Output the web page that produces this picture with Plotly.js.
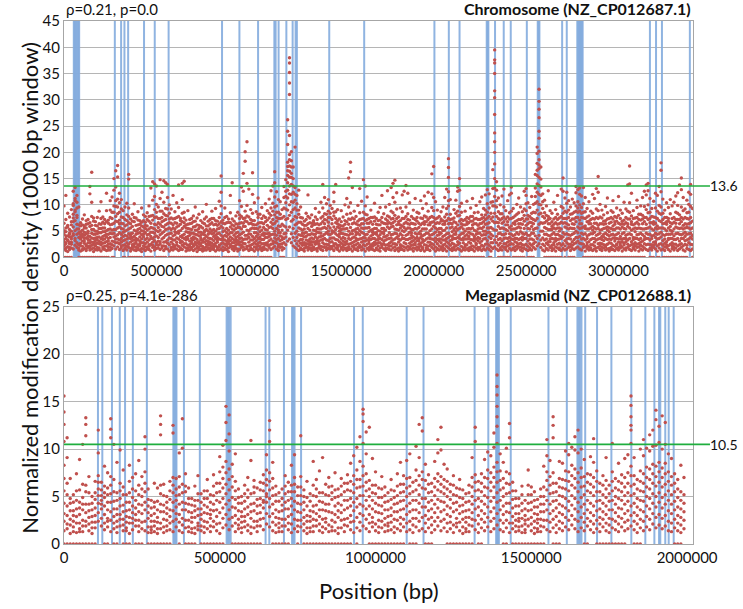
<!DOCTYPE html>
<html>
<head>
<meta charset="utf-8">
<script src="https://cdn.plot.ly/plotly-3.0.1.min.js"></script>
<style>html,body{margin:0;padding:0;background:#fff;}#chart{width:743px;height:609px;}</style>
</head>
<body>
<div id="chart"></div>
<script>
// Each row: [window position in kb, densities of the 1000 bp windows read around that position...]
const chromosomeRows = [
[0,0,6.5,1.6,3.4,4.9,2.2,9.8,2.3,3.0,4.4,5.1],[10,0,1.3,4.1,7.2,2.8,5.6,11.8,1.8,2.6,3.6,4.9],[20,0,2.0,3.2,6.1,1.1,8.4,2.0,3.3,4.1,5.8],[30,0,1.5,4.6,2.6,7.7,5.3,1.9,2.9,3.9,4.4],[40,0,1.8,3.5,6.8,2.9,9.1,2.5,3.9,5.0,6.2],
[50,1.6,4.2,7.5,10.2,5.8,12.6,4.5,6.8,8.2,9.9],[60,2.3,5.1,8.7,11.2,3.6,13.3,3.2,7.0,9.0,10.8],[70,1.9,6.3,9.4,4.4,11.8,7.6,2.8,5.4,8.0,10.5],[80,0,1.4,3.8,6.2,9.6,2.5,1.7,2.4,4.7,5.4],[90,0,1.2,2.7,4.3,6.6,3.5,2.2,3.8,4.9,6.0],
[100,0,2.1,5.2,1.5,7.3,3.9,1.4,3.1,4.4,6.2],[110,0,1.7,3.1,4.8,6.0,8.1,2.7,3.6,4.2,5.6],[120,0,1.3,2.4,5.6,3.7,7.0,1.6,2.2,4.5,6.3],[130,0,1.9,4.0,2.8,6.4,5.0,2.1,3.4,4.6,7.2],[140,0,1.4,3.3,5.9,2.2,12.1,13.5,1.9,2.8,4.0,6.6],
[150,0,1.6,2.9,4.6,7.8,16.2,10.5,2.3,3.7,5.3,6.1],[160,0,1.1,3.6,5.3,2.5,6.9,1.8,2.9,4.4,7.5],[170,0,2.2,4.4,1.5,6.1,3.2,2.6,3.7,5.0,6.8],[180,0,1.4,2.7,5.0,3.8,7.6,1.9,3.3,4.5,6.0],[190,0,1.8,3.9,6.4,2.6,8.8,1.5,3.1,4.7,5.5],
[200,0,1.2,2.9,4.7,10.6,5.5,2.4,3.6,6.3,7.4],[210,0,2.0,3.4,6.7,1.6,4.9,2.7,4.0,5.6,7.7],[220,0,1.5,4.2,2.8,7.2,5.6,2.1,3.5,4.9,6.4],[230,0,1.3,3.0,5.1,8.9,12.2,2.2,3.9,4.4,6.8],[240,0,1.9,2.5,4.4,6.5,3.6,1.4,3.1,5.3,7.1],
[250,1.4,3.8,6.2,9.0,2.6,10.8,2.0,4.6,5.4,7.6],[260,0,1.7,4.5,7.4,3.1,11.5,2.4,5.2,6.3,8.6],[270,0,2.2,5.3,8.6,3.9,12.8,15.0,3.0,4.6,6.5,9.8],[280,1.6,4.1,6.9,9.7,2.8,13.4,16.5,3.5,5.3,7.8,10.8],[290,2.0,5.6,8.3,11.1,3.5,15.3,17.5,2.8,4.3,6.8,9.6],
[300,1.5,4.7,7.1,10.4,2.6,12.2,3.3,5.8,6.4,8.6],[310,1.8,3.6,6.5,9.2,2.2,11.0,2.9,4.4,5.5,7.7],[320,0,1.3,4.0,7.6,5.4,8.9,2.3,3.2,4.8,6.4],[330,0,2.4,3.3,6.0,1.7,9.6,1.8,4.2,5.0,7.2],[340,1.4,2.8,5.2,8.1,4.1,10.3,2.1,3.5,6.2,7.0],
[350,0,1.9,3.7,6.6,9.4,15.8,14.9,2.5,4.5,5.4,7.8],[360,0,1.2,4.5,2.9,7.3,5.6,1.7,3.6,4.1,6.4],[370,0,1.6,3.2,5.9,8.2,2.4,2.0,3.8,4.6,6.9],[380,0,2.1,4.0,6.8,1.4,10.2,2.6,3.3,5.2,7.6],[390,0,1.3,2.7,5.0,3.6,7.5,1.9,3.1,4.4,6.1],
[400,0,1.8,4.6,2.3,6.2,8.7,1.5,3.4,5.3,7.1],[410,0,1.4,3.1,5.5,7.0,2.6,2.2,3.9,4.7,6.3],[420,0,1.1,2.8,4.3,6.7,9.4,1.7,3.5,5.1,6.0],[430,1.6,3.9,2.2,5.8,8.1,2.8,4.4,5.0,7.0],[440,0,1.3,3.4,6.1,4.7,7.8,2.0,2.6,5.5,6.7],
[450,0,2.0,2.9,5.2,8.5,3.7,1.6,4.3,6.0,7.2],[460,0,1.5,4.4,6.9,2.4,9.8,2.1,3.3,5.4,7.8],[470,0,1.2,3.6,5.7,7.9,13.2,2.5,4.0,4.8,6.5],[480,0,1.9,4.8,8.0,2.9,10.9,14.4,2.3,3.6,5.6,7.1],[490,1.4,3.2,6.3,9.1,4.6,11.6,14.0,2.0,3.9,5.4,7.6],
[500,0,1.7,5.1,7.7,2.8,10.1,13.6,2.4,4.1,6.2,8.6],[510,0,2.3,3.8,6.6,9.6,4.9,1.8,3.1,5.7,7.4],[520,0,1.5,4.3,7.4,2.6,11.2,14.8,3.0,5.2,6.3,8.8],[530,0,1.8,3.5,5.9,8.8,12.4,2.2,4.6,6.8,7.6],[540,0,1.3,4.9,7.0,2.2,10.5,14.6,2.9,3.8,5.8,8.3],
[550,0,2.1,3.0,6.2,9.3,5.3,14.2,1.7,4.2,7.2,8.0],[560,1.6,4.4,7.9,2.7,11.4,13.9,3.3,5.4,6.4,9.2],[570,0,1.2,3.7,5.6,8.4,10.0,2.4,4.5,6.6,7.3],[580,0,1.9,2.9,6.5,4.6,9.2,1.5,3.6,5.3,7.5],[590,0,1.4,4.1,7.3,2.5,11.8,2.0,3.3,5.6,6.2],
[600,0,2.2,3.3,5.4,8.7,6.6,1.7,4.3,4.9,7.4],[610,0,1.6,4.7,2.4,7.6,10.4,2.9,3.7,5.8,6.5],[620,0,1.3,3.5,6.0,9.5,13.8,2.1,4.6,5.0,7.8],[630,0,1.8,2.8,5.1,7.4,4.0,1.5,3.2,6.3,7.0],[640,0,1.5,4.2,6.8,3.0,11.0,14.1,2.3,3.8,5.5,8.4],
[650,0,2.0,3.6,5.9,8.6,14.5,2.6,4.4,6.6,7.5],[660,0,1.2,2.6,4.9,7.1,3.8,1.8,3.3,5.6,6.2],[670,0,1.7,4.0,2.3,6.3,8.9,1.4,3.5,4.8,5.5],[680,0,1.4,3.1,5.4,2.0,7.2,2.4,4.2,4.7,6.4],[690,0,1.9,2.7,4.6,6.5,3.6,1.6,3.1,5.3,7.4],
[700,0,1.3,3.9,5.8,2.4,7.9,2.1,3.4,4.6,6.8],[710,0,1.6,2.9,4.4,6.9,9.6,2.5,3.7,5.2,5.9],[720,0,1.1,3.4,5.2,2.2,7.5,1.8,2.8,4.3,6.2],[730,0,2.0,4.1,3.0,6.1,8.2,1.5,2.6,4.8,5.5],[740,0,1.5,2.6,4.8,7.0,3.7,2.2,3.3,4.2,5.9],
[750,0,1.2,3.3,5.6,2.1,8.7,1.7,2.9,4.5,6.6],[760,0,1.8,4.3,2.9,6.4,5.1,1.4,3.6,4.9,7.3],[770,0,1.4,2.5,4.0,7.7,10.1,2.0,3.2,5.3,6.0],[780,0,1.7,3.7,6.0,2.7,5.0,2.3,3.1,4.4,6.9],[790,0,1.3,2.9,4.7,7.2,3.6,1.8,2.4,5.4,6.3],
[800,0,2.1,4.5,1.6,6.6,8.8,2.7,3.5,5.1,7.4],[810,0,1.5,3.2,5.3,2.4,7.4,1.9,4.0,4.6,6.2],[820,0,1.2,2.7,4.2,6.3,9.3,2.2,3.6,5.0,7.0],[830,0,1.9,3.8,6.9,2.9,5.4,1.5,3.3,4.5,6.1],[840,0,1.4,4.6,2.3,7.6,10.7,2.0,3.5,5.5,6.4],
[850,1.6,3.4,5.9,8.3,12.4,15.5,2.6,4.2,6.8,9.8],[860,0,1.3,2.8,4.9,7.1,3.9,2.0,3.4,5.6,6.5],[870,0,1.8,4.2,6.4,2.5,9.4,1.5,3.3,5.1,7.6],[880,0,1.5,3.1,5.5,7.8,2.2,2.6,4.0,4.7,6.6],[890,0,1.1,2.6,4.4,6.7,3.5,1.8,3.0,5.2,7.3],
[900,0,2.0,3.9,5.8,8.5,11.8,2.4,3.2,4.7,6.6],[910,0,1.6,4.7,2.8,7.3,14.2,2.1,3.6,5.4,6.2],[920,0,1.3,3.3,5.2,2.1,6.9,1.7,2.8,4.2,6.0],[930,0,1.7,2.9,4.6,7.9,3.8,2.3,3.4,5.5,6.4],[940,0,1.2,4.0,6.3,2.6,8.6,1.6,3.2,4.8,5.7],
[950,1.5,3.6,5.7,2.4,8.1,10.8,2.9,4.3,6.5,7.4],[960,0,1.9,3.0,6.6,4.5,9.7,13.4,2.3,3.7,5.4,7.8],[970,0,1.4,4.8,2.7,7.4,12.6,16.0,2.0,3.4,5.9,6.5],[980,0,1.6,3.5,5.9,8.8,18.3,20.1,2.6,4.2,6.9,7.5],[990,0,2.1,4.2,6.8,9.9,14.1,22.0,1.7,3.5,5.2,7.9],
[1000,0,1.3,2.9,5.1,7.7,13.0,2.2,3.8,4.5,6.4],[1010,0,1.8,4.4,2.3,6.5,9.1,1.5,3.3,5.4,7.2],[1020,0,1.5,3.3,5.6,8.4,12.0,16.1,2.5,4.0,6.3,7.0],[1030,0,1.2,2.8,4.7,7.0,10.4,2.0,3.6,5.5,6.2],[1040,0,1.9,4.0,6.2,2.5,8.7,1.6,3.2,4.7,5.5],
[1050,1.4,3.6,5.4,2.2,7.6,11.3,2.7,4.4,6.5,8.2],[1060,0,1.7,2.9,4.9,8.2,3.9,2.2,3.5,5.8,6.6],[1070,0,1.3,4.3,6.6,2.6,9.5,1.8,3.4,5.2,7.4],[1080,0,2.0,3.4,5.7,7.9,4.6,1.5,2.6,4.2,6.4],[1090,0,1.6,2.7,4.5,6.8,10.2,2.4,3.8,5.3,7.6],
[1100,0,1.4,3.8,6.1,8.9,2.3,2.8,4.5,5.2,7.1],[1110,0,1.9,4.6,7.5,3.2,11.1,2.3,4.0,5.7,8.4],[1120,0,1.5,3.5,5.8,9.4,12.7,2.5,4.3,6.7,8.0],[1130,1.8,4.4,7.2,10.3,3.1,13.6,2.6,5.5,6.3,8.8],[1140,2.1,5.0,8.1,11.5,3.7,14.2,16.3,2.9,4.4,6.5,9.6],
[1150,1.6,4.2,6.9,9.8,2.8,12.5,3.4,5.5,7.6,8.6],[1160,1.3,3.6,6.0,8.6,2.4,11.0,2.0,4.7,5.2,7.4],[1170,0,1.9,4.7,7.4,10.6,3.2,2.5,4.1,5.9,8.2],[1180,0,1.4,3.9,6.3,9.1,2.6,2.0,3.4,5.2,7.5],[1190,0,1.7,4.5,7.8,11.4,13.5,2.8,3.6,6.0,9.4],
[1200,2.4,5.8,9.2,12.6,14.8,3.9,4.6,7.2,10.4,11.6],[1210,3.1,7.4,11.3,14.2,16.5,18.1,21.5,24.0,26.2,5.2,9.0,12.8,15.6,17.3],[1220,3.5,8.0,12.1,15.3,17.4,19.6,23.2,31.0,33.2,35.2,37.0,38.0,5.8,10.0,13.6,16.4,18.6],[1230,2.8,6.9,10.6,13.9,16.0,18.4,20.1,4.5,8.6,12.0,15.2,17.2],[1240,2.2,5.5,9.1,12.4,15.0,17.2,3.8,7.2,10.5,13.6],
[1250,1.9,4.6,7.8,10.9,13.3,21.0,3.2,6.2,9.4,12.0],[1260,1.6,3.8,6.4,9.0,11.8,2.6,5.0,7.6,10.2],[1270,0,1.3,3.1,5.6,8.2,12.8,2.2,4.3,6.7,9.0],[1280,0,1.8,4.2,6.7,2.7,9.6,1.5,3.4,5.4,7.6],[1290,0,1.5,3.4,5.2,7.5,2.3,2.8,4.1,4.6,6.3],
[1300,0,1.2,2.8,4.6,6.9,3.9,1.7,2.4,5.4,6.1],[1310,0,1.9,4.0,6.1,2.6,8.4,2.1,3.3,4.8,7.2],[1320,0,1.4,3.2,5.5,7.8,11.9,1.9,2.6,4.3,6.4],[1330,0,1.7,2.6,4.3,6.6,3.5,2.3,3.0,5.2,7.5],[1340,0,1.3,3.7,5.9,2.4,8.1,1.8,3.0,4.5,6.5],
[1350,0,2.0,4.4,2.9,7.0,5.2,1.5,3.5,6.2,6.7],[1360,0,1.6,3.0,5.1,7.7,9.3,2.5,3.9,4.4,6.3],[1370,0,1.2,2.7,4.8,6.4,3.6,1.7,3.2,5.5,7.2],[1380,0,1.8,3.9,6.2,2.2,8.6,2.6,3.1,4.7,5.4],[1390,0,1.5,3.3,5.4,7.5,10.5,2.1,4.0,4.6,6.4],
[1400,0,1.3,4.1,6.8,2.8,9.4,13.9,2.0,3.4,5.6,7.8],[1410,0,1.9,3.6,5.7,8.3,11.4,2.5,4.4,6.4,7.2],[1420,0,1.4,4.7,7.1,2.5,10.2,1.9,3.3,5.5,8.2],[1430,1.7,3.2,6.0,8.8,4.4,11.0,2.4,5.0,6.7,7.6],[1440,0,1.6,4.3,7.6,2.9,9.9,2.1,3.6,5.6,8.4],
[1450,0,2.1,3.7,6.4,9.3,5.1,1.7,3.0,4.6,7.2],[1460,0,1.3,4.9,7.9,2.6,10.6,12.4,2.2,3.7,5.8,8.6],[1470,0,1.8,3.4,6.6,8.7,13.9,2.6,4.5,5.3,7.4],[1480,0,1.5,4.2,5.8,2.3,9.1,1.9,3.3,6.4,7.0],[1490,0,1.2,3.0,5.0,7.3,3.9,2.3,4.4,5.6,6.2],
[1500,0,1.9,2.7,4.6,6.8,8.9,1.6,3.5,5.3,6.0],[1510,0,1.4,3.8,6.0,2.4,7.7,2.0,3.1,4.5,5.4],[1520,0,1.7,4.4,2.9,7.0,10.0,2.4,3.6,5.4,6.3],[1530,0,1.3,3.1,5.5,8.2,11.2,1.8,2.6,4.3,6.8],[1540,0,2.0,3.6,6.3,2.5,9.6,15.1,1.5,4.2,5.0,7.3],
[1550,0,1.6,4.5,7.2,10.4,16.3,18.1,2.6,3.4,5.7,8.4],[1560,0,1.2,2.8,5.1,7.5,13.3,2.1,3.7,4.5,6.4],[1570,0,1.8,3.9,6.6,2.3,8.8,1.6,3.0,5.2,7.3],[1580,0,1.5,3.2,5.4,7.8,4.3,2.4,3.6,4.8,6.4],[1590,0,1.3,4.6,2.7,6.9,9.9,1.9,3.4,5.5,6.2],
[1600,0,1.9,3.5,6.1,8.5,13.1,2.3,4.3,5.1,7.2],[1610,0,1.4,2.9,4.8,7.3,10.7,2.0,3.6,5.6,6.4],[1620,1.6,3.8,6.4,2.4,8.6,14.8,3.1,4.6,5.5,7.4],[1630,0,1.2,4.3,7.0,3.1,9.8,13.6,2.2,3.7,5.6,8.2],[1640,0,1.7,3.3,5.6,8.1,11.5,2.5,4.4,6.5,7.2],
[1650,0,1.4,2.7,4.9,6.5,3.7,1.9,3.2,5.7,7.4],[1660,0,2.0,4.1,6.8,2.3,9.0,1.6,3.4,5.2,7.6],[1670,0,1.5,3.6,5.3,7.6,2.6,2.1,4.3,4.8,6.3],[1680,0,1.3,2.9,4.6,6.9,10.3,2.4,3.6,5.5,7.7],[1690,0,1.8,4.4,2.6,7.4,5.5,1.5,3.3,4.7,6.3],
[1700,0,1.4,3.4,6.2,8.6,4.0,2.2,2.8,5.1,7.0],[1710,0,1.2,2.8,5.0,7.1,9.5,1.8,3.6,4.3,6.2],[1720,0,1.9,4.7,2.5,6.7,11.8,2.3,3.4,5.5,7.6],[1730,0,1.6,3.1,5.5,8.3,3.9,2.6,4.5,4.9,6.5],[1740,0,1.3,4.0,6.4,2.3,9.6,1.7,3.3,5.2,7.3],
[1750,0,1.7,3.5,5.8,7.9,12.7,2.4,4.2,6.4,7.0],[1760,0,2.1,2.7,4.7,6.6,10.1,1.5,3.6,5.5,7.7],[1770,0,1.4,4.3,7.3,3.0,8.8,13.3,2.2,3.7,5.8,6.4],[1780,0,1.8,3.3,5.9,8.5,11.4,14.1,2.6,4.4,6.6,7.4],[1790,0,1.3,4.6,6.9,2.6,10.5,14.7,2.0,3.5,5.4,8.0],
[1800,0,1.6,3.8,6.2,9.2,12.3,2.4,4.5,5.3,7.4],[1810,0,1.2,2.9,5.2,7.7,4.1,1.8,3.5,6.3,6.8],[1820,0,1.9,4.5,2.4,7.0,9.4,1.5,3.3,5.6,6.2],[1830,0,1.5,3.6,6.0,8.7,11.9,2.2,4.2,5.1,7.4],[1840,0,1.3,2.8,4.9,7.4,12.6,2.0,3.6,5.7,6.4],
[1850,0,1.8,4.2,6.7,9.6,13.7,2.6,3.4,5.3,7.8],[1860,0,1.4,3.4,5.6,8.3,12.2,2.1,4.4,6.4,7.2],[1870,0,2.0,4.8,2.7,7.1,10.4,1.6,3.6,5.6,6.3],[1880,0,1.6,3.0,5.3,7.8,4.2,2.3,3.7,4.7,6.5],[1890,0,1.2,3.9,6.4,2.4,9.0,1.8,3.2,5.3,7.4],
[1900,0,1.7,2.8,4.6,7.2,11.2,2.4,3.6,5.5,6.3],[1910,0,1.4,4.4,6.9,3.2,8.6,2.0,3.8,5.4,7.6],[1920,0,1.9,3.5,5.7,8.4,2.5,1.6,3.1,4.6,6.5],[1930,0,1.3,2.7,5.0,7.5,10.8,2.2,3.8,4.4,6.2],[1940,0,1.6,4.1,6.5,2.9,9.3,1.9,3.4,5.4,7.4],
[1950,0,1.2,3.2,5.4,7.9,11.7,2.4,4.3,6.3,6.8],[1960,0,1.8,4.6,2.3,6.8,10.2,1.5,3.5,5.4,7.7],[1970,0,1.5,3.7,6.2,8.8,12.4,2.1,2.9,4.6,7.2],[1980,0,1.3,2.9,5.1,7.6,4.2,2.3,3.6,6.2,6.6],[1990,0,1.9,4.3,6.7,9.5,12.1,15.9,2.6,3.5,5.4,7.8],
[2000,1.6,3.4,5.9,8.9,11.4,17.3,2.4,4.5,6.8,7.6],[2010,0,1.2,3.0,4.8,7.3,10.6,2.0,3.7,5.6,6.4],[2020,0,1.7,4.2,6.6,2.6,9.0,1.5,3.4,5.3,7.5],[2030,0,1.4,3.5,5.5,7.8,3.1,2.2,4.3,4.8,6.5],[2040,0,1.9,2.8,4.6,6.9,8.7,1.6,3.5,5.5,7.3],
[2050,0,1.3,4.0,6.3,2.3,9.6,1.9,3.3,5.1,7.0],[2060,0,1.6,3.3,5.2,7.7,11.4,2.5,4.2,6.3,6.8],[2070,0,1.2,4.5,7.0,3.0,9.3,13.0,2.1,3.6,5.6,8.2],[2080,1.8,3.8,6.4,9.8,12.5,15.2,17.1,18.8,2.7,4.6,7.4,10.8],[2090,0,1.5,3.2,5.6,8.2,11.0,2.3,4.1,6.5,7.2],
[2100,0,1.3,2.7,4.9,7.3,4.0,1.8,3.4,5.8,6.4],[2110,0,1.9,4.4,6.8,2.5,9.1,1.5,3.6,5.3,7.5],[2120,0,1.4,3.6,5.7,8.4,10.9,2.2,4.4,4.9,6.6],[2130,0,1.7,3.0,5.3,7.9,12.6,13.4,2.4,3.8,6.2,8.8],[2140,1.5,4.2,6.9,9.7,12.8,15.0,2.7,3.6,5.5,8.0],
[2150,0,1.2,3.4,5.8,8.6,10.3,2.1,4.5,6.4,7.2],[2160,0,1.8,2.8,4.6,7.0,3.7,1.5,3.4,5.4,6.2],[2170,0,1.4,4.1,6.2,2.4,8.8,2.0,3.5,5.0,7.2],[2180,0,1.6,3.5,5.4,7.6,10.7,2.4,4.3,6.3,6.8],[2190,0,1.3,2.9,4.8,6.6,3.6,1.8,4.0,5.5,7.4],
[2200,0,2.0,4.5,6.9,2.7,9.4,1.5,3.4,5.4,7.8],[2210,0,1.5,3.3,5.6,7.8,11.2,2.2,4.4,6.2,6.9],[2220,0,1.2,4.0,6.4,3.1,8.5,2.0,3.6,5.2,7.3],[2230,0,1.7,2.7,5.0,7.4,9.9,2.4,3.5,4.4,6.4],[2240,0,1.4,3.8,6.1,8.6,4.6,1.9,3.2,5.4,7.2],
[2250,0,1.9,4.6,7.2,2.8,10.6,1.6,3.6,5.6,6.4],[2260,0,1.3,3.1,5.5,8.1,11.5,2.3,4.2,6.5,7.4],[2270,0,1.6,4.3,6.8,9.3,3.5,2.1,5.0,5.8,7.6],[2280,1.4,3.6,6.3,9.0,11.9,5.0,2.5,4.3,7.2,8.1],[2290,1.8,4.7,7.5,10.2,12.9,3.2,2.6,5.6,6.4,8.6],
[2300,0,1.5,3.9,6.6,9.4,12.1,2.3,4.8,5.6,7.8],[2310,0,1.2,4.4,7.3,10.5,2.8,2.0,3.6,5.7,8.4],[2320,1.7,4.1,6.9,9.8,13.1,16.7,2.8,5.4,7.7,10.6],[2330,2.0,5.2,8.4,11.6,15.0,17.8,20.0,22.0,23.7,27.2,30.4,31.7,35.0,37.0,37.6,39.5,3.3,6.6,9.8,13.2],[2340,1.6,4.0,6.7,9.6,12.8,14.4,2.8,5.2,7.8,10.8],
[2350,0,1.3,3.4,5.9,8.7,11.3,2.3,4.5,6.6,7.4],[2360,0,1.8,4.6,7.1,2.7,10.0,1.5,3.6,5.5,8.3],[2370,0,1.4,3.2,5.6,8.3,11.7,2.1,4.3,6.5,7.4],[2380,0,1.9,4.3,6.8,9.6,13.0,2.6,3.6,5.5,7.7],[2390,0,1.5,3.7,6.2,8.9,2.6,2.0,4.5,5.3,7.3],
[2400,0,1.2,2.9,5.1,7.7,10.8,2.2,3.6,6.2,6.8],[2410,0,1.7,4.5,7.3,3.1,11.9,2.4,3.8,5.7,8.5],[2420,1.4,3.5,6.0,8.8,12.2,13.4,2.6,4.4,5.3,7.4],[2430,0,1.8,4.1,6.5,2.5,9.3,1.6,3.4,5.4,7.6],[2440,0,1.3,3.0,5.4,7.9,4.3,2.0,3.6,6.3,6.8],
[2450,0,1.6,4.7,7.0,2.8,10.1,2.2,3.6,5.6,8.2],[2460,0,1.9,3.4,5.8,8.5,11.3,2.5,4.4,6.4,7.2],[2470,0,1.4,2.7,4.9,7.2,9.6,2.0,3.6,5.6,6.4],[2480,0,1.2,3.9,6.3,2.4,8.7,1.8,3.3,4.6,7.4],[2490,0,1.7,4.4,6.9,9.2,12.6,2.3,3.6,5.5,8.0],
[2500,1.5,3.6,6.1,8.9,11.8,13.1,2.5,4.6,7.3,10.2],[2510,0,1.3,3.1,5.5,8.0,10.4,2.1,4.2,6.4,7.3],[2520,0,1.8,4.2,6.7,2.6,9.5,1.5,3.5,5.4,7.8],[2530,0,1.4,3.5,5.9,8.4,11.6,2.3,4.6,6.6,7.4],[2540,0,1.9,4.6,7.2,10.1,3.3,2.6,5.3,6.4,8.6],
[2550,1.6,4.1,7.0,10.3,13.2,15.8,2.9,5.5,8.5,11.6],[2560,2.2,5.6,9.0,12.4,15.6,17.9,19.8,21.0,3.6,7.4,10.6,14.0,16.6],[2570,2.6,6.3,10.1,13.7,16.9,18.6,20.2,22.7,24.0,26.6,28.2,29.7,32.0,4.2,8.2,12.0,15.2,17.6],[2580,1.9,5.0,8.4,11.8,14.9,17.2,3.3,6.6,10.0,13.4],[2590,1.4,3.7,6.5,9.3,12.1,2.5,5.0,7.8,10.6],
[2600,0,1.2,3.3,5.7,8.5,10.9,2.2,4.4,6.6,7.5],[2610,0,1.7,4.4,6.9,2.7,9.8,1.6,3.5,5.5,8.0],[2620,0,1.4,3.0,5.3,7.8,12.7,2.4,4.2,6.4,7.2],[2630,0,1.9,4.1,6.4,8.9,3.5,2.0,3.0,5.3,7.4],[2640,0,1.3,3.6,5.9,2.3,8.4,1.8,4.4,5.3,6.8],
[2650,0,1.6,2.8,4.7,7.3,10.5,2.4,3.5,5.6,6.3],[2660,0,1.2,4.3,6.6,3.1,9.1,2.0,3.6,5.4,7.6],[2670,0,1.8,3.4,5.6,8.2,11.8,2.5,4.4,6.3,7.2],[2680,0,1.5,2.7,5.0,7.5,4.2,1.8,3.5,5.6,6.4],[2690,0,1.3,4.0,6.7,9.7,13.0,2.3,3.6,5.4,7.8],
[2700,1.7,3.9,6.5,9.4,12.6,15.1,2.6,4.7,7.4,8.4],[2710,0,1.4,3.2,5.8,8.8,11.3,2.2,4.4,6.6,7.4],[2720,1.6,4.5,7.4,10.3,2.8,12.4,3.5,5.6,6.4,8.6],[2730,0,1.9,3.6,6.2,9.0,10.8,2.5,4.3,5.4,7.6],[2740,0,1.3,4.2,7.0,2.5,9.6,2.0,3.5,5.6,8.2],
[2750,0,1.7,3.0,5.5,8.3,11.1,2.3,4.4,6.4,7.3],[2760,0,1.5,4.6,7.3,10.4,3.4,2.6,5.5,6.3,8.6],[2770,1.8,3.8,6.8,9.8,12.3,13.5,2.8,5.0,7.6,8.8],[2780,2.0,4.7,7.6,10.6,12.9,3.1,3.8,5.8,8.6,9.4],[2790,1.6,4.0,7.1,10.0,12.0,13.2,2.7,5.5,6.4,8.8],
[2800,1.4,3.5,6.4,9.5,11.7,2.6,4.6,5.6,7.6,8.4],[2810,0,1.9,4.4,7.5,10.2,13.3,2.5,3.6,5.8,8.6],[2820,0,1.2,3.3,6.0,8.7,11.4,2.1,4.5,5.5,7.4],[2830,0,1.7,4.1,6.8,2.8,9.3,2.3,3.6,5.4,7.7],[2840,0,1.4,3.0,5.4,7.9,10.6,2.0,4.3,6.4,6.9],
[2850,0,1.8,4.5,7.2,2.4,8.8,1.5,3.4,5.6,6.4],[2860,0,1.3,3.6,5.9,8.4,12.0,2.4,4.5,5.2,7.4],[2870,0,1.6,2.9,4.8,7.3,11.2,2.2,3.6,5.6,6.5],[2880,0,1.2,4.2,6.5,9.2,13.1,1.8,3.3,5.4,7.6],[2890,0,1.9,3.5,6.1,8.9,12.4,15.4,2.6,4.4,5.5,7.4],
[2900,0,1.5,2.7,5.2,7.7,10.1,2.2,3.6,4.6,6.4],[2910,0,1.3,4.0,6.4,2.6,9.0,1.9,3.4,5.3,7.5],[2920,0,1.8,3.2,5.5,8.1,3.9,2.4,4.4,6.3,6.9],[2930,0,1.4,4.6,7.0,2.3,9.7,2.0,3.6,5.6,6.4],[2940,0,1.6,3.4,5.8,8.5,11.3,2.5,4.3,5.2,7.3],
[2950,0,1.2,2.8,4.9,7.4,4.1,1.7,3.5,5.6,6.5],[2960,0,1.9,4.3,6.7,2.7,8.9,1.5,3.4,5.5,7.6],[2970,0,1.5,3.7,6.0,8.6,10.8,2.3,4.4,5.3,7.3],[2980,0,1.3,3.1,5.3,7.8,3.6,2.1,4.2,6.3,6.8],[2990,0,1.7,4.4,6.9,2.5,9.4,2.4,3.6,5.6,7.6],
[3000,0,1.4,2.9,5.6,8.0,11.6,1.9,3.5,4.6,6.5],[3010,0,1.8,4.0,6.3,2.8,9.0,2.3,3.5,5.4,7.4],[3020,0,1.2,3.5,5.8,8.4,4.5,2.0,3.0,6.4,6.9],[3030,0,1.6,2.7,4.7,7.1,10.5,2.4,3.6,5.5,6.3],[3040,0,1.4,4.2,6.6,3.0,9.2,1.8,3.6,5.4,7.6],
[3050,0,1.9,3.3,5.9,8.8,13.8,2.5,4.4,6.4,7.3],[3060,0,1.5,4.5,7.3,10.4,14.0,17.4,2.2,3.6,5.6,8.6],[3070,0,1.3,3.0,5.2,7.9,12.2,2.4,4.3,6.3,6.8],[3080,0,1.7,3.8,6.2,2.5,8.9,1.9,3.4,5.4,7.4],[3090,0,1.4,2.8,4.9,7.5,3.7,2.2,3.6,5.6,6.4],
[3100,0,1.9,4.3,6.7,9.5,10.9,2.5,3.6,5.5,7.6],[3110,0,1.2,3.4,5.6,8.2,2.6,2.0,4.4,6.3,7.2],[3120,0,1.6,4.6,7.1,2.9,9.8,2.3,3.6,5.5,8.2],[3130,0,1.4,3.1,5.4,8.0,11.4,2.1,4.3,6.4,7.3],[3140,0,1.8,4.0,6.8,9.7,12.6,2.6,3.4,5.4,7.6],
[3150,1.5,3.6,6.3,9.1,11.9,13.8,2.4,4.6,5.5,7.6],[3160,1.3,4.4,7.2,10.0,12.7,14.1,2.5,3.6,5.6,8.5],[3170,0,1.7,3.3,5.8,8.6,11.2,2.4,4.4,6.6,7.4],[3180,0,1.4,4.1,6.6,2.4,9.3,1.9,3.6,5.4,7.8],[3190,0,1.9,2.9,5.2,7.7,10.7,2.3,4.2,6.3,6.8],
[3200,1.6,3.8,6.5,9.4,12.2,3.0,2.6,4.6,5.6,7.6],[3210,0,1.2,3.5,6.0,8.8,11.8,2.2,4.4,5.4,7.4],[3220,0,1.8,4.5,7.0,9.9,13.5,2.5,3.6,5.6,8.4],[3230,1.4,3.9,6.8,9.6,12.5,16.6,18.0,2.6,4.8,5.6,8.2],[3240,0,1.6,3.2,5.6,8.4,11.1,2.3,4.3,6.4,7.2],
[3250,0,1.3,4.2,6.5,2.7,9.0,2.0,3.5,5.4,7.6],[3260,0,1.9,3.0,5.1,7.6,10.4,2.4,4.4,6.3,6.8],[3270,0,1.5,4.4,6.9,9.5,3.6,2.2,3.4,5.6,7.4],[3280,0,1.2,3.6,5.9,8.3,11.0,2.5,4.4,5.2,6.6],[3290,0,1.7,2.8,5.0,7.4,9.8,2.2,3.6,4.5,6.4],
[3300,0,1.4,4.1,6.7,2.5,10.5,1.9,3.4,5.4,7.6],[3310,0,1.8,3.4,5.8,8.6,11.7,2.5,4.5,6.5,7.2],[3320,0,1.3,4.6,7.2,9.9,12.3,2.2,3.6,5.6,8.4],[3330,0,1.6,3.1,5.5,8.1,13.8,2.4,4.4,6.4,7.2],[3340,0,1.9,4.3,6.8,9.6,12.9,15.1,2.6,3.6,5.6,7.6],
[3350,0,1.4,3.6,6.1,8.9,11.4,2.2,4.5,5.4,7.3],[3360,0,1.2,4.0,6.4,9.2,3.2,2.5,4.8,5.6,7.6],[3370,0,1.7,3.3,5.7,8.5,10.9,2.3,4.4,6.3,7.4],[3380,1.5,4.5,7.3,10.1,12.4,2.8,3.5,5.6,6.4,8.6],[3390,1.3,3.8,6.6,9.7,12.0,13.9,2.5,4.6,5.4,7.6],
[3400,0,1.6,4.2,6.9,9.3,2.4,3.5,5.6]
];

const megaplasmidRows = [
[0,0,1.4,3.2,5.6,8.3,10.8,12.6,13.9,15.6,2.4,4.3,6.9],[10,0,2.1,4.0,6.4,9.1,11.2,1.6,3.0,5.2],[20,0,1.1,2.6,4.3,6.9,2.0,3.5,4.8],[30,0,1.8,3.5,2.4,5.2,1.3,3.0,4.4],[40,0,1.2,2.9,4.6,7.4,2.2,3.7,5.6],
[50,0,1.6,3.8,2.2,5.7,8.9,1.3,3.1,4.4],[60,0,1.3,2.5,4.9,6.3,10.5,1.9,3.6,4.2],[70,0,1.9,3.3,5.5,11.4,12.6,13.3,2.4,4.2,6.2],[80,0,1.4,2.8,4.2,7.1,2.1,3.5,5.4],[90,0,1.1,3.6,5.0,2.3,1.7,2.9,4.3],
[100,0,1.7,3.0,4.7,6.6,2.3,3.8,5.4],[110,2.4,4.3,5.8,7.2,9.6,12.0,3.3,5.1,6.5],[120,1.9,3.7,5.1,6.5,4.6,2.7,4.2,5.7],[130,0,1.5,3.1,4.9,6.1,8.2,2.2,4.0,5.4],[140,0,1.8,2.7,4.4,5.9,7.5,2.4,3.6,5.2],
[150,1.3,3.4,5.3,7.1,11.2,12.1,13.2,2.5,4.4,6.2],[160,0,1.6,2.9,4.5,6.8,10.5,2.2,3.7,5.5],[170,0,1.2,3.7,5.4,2.4,8.6,1.8,3.1,4.6],[180,1.9,3.1,4.8,6.4,9.9,2.6,4.0,5.6],[190,0,1.4,2.6,4.1,6.0,7.8,2.0,3.4,5.2],
[200,0,1.7,3.5,5.2,2.3,1.4,2.9,4.4],[210,0,1.1,2.8,4.4,6.6,8.3,2.2,3.6,5.4],[220,1.5,3.3,4.9,2.2,7.0,2.7,4.0,5.8],[230,0,1.9,3.8,5.6,7.4,2.5,3.1,4.6],[240,0,1.3,2.5,4.2,6.2,8.8,1.9,3.4,5.2],
[250,0,1.6,3.2,5.0,7.1,2.3,4.1,5.8],[260,1.4,3.6,5.5,7.6,10.0,11.3,2.4,4.4,6.4],[270,0,1.2,2.7,4.0,5.8,1.8,3.3,4.7],[280,0,1.8,3.0,1.5,4.6,1.2,2.4,3.8],[290,0,1.3,2.4,3.9,6.4,1.9,3.2,4.4],
[300,0,1.1,2.8,4.5,5.9,1.6,2.3,3.6],[310,0,1.6,3.4,5.3,11.5,12.6,13.5,2.2,4.2,6.2],[320,0,1.2,2.6,4.1,6.3,1.8,3.4,5.1],[330,0,1.9,3.2,1.4,5.0,2.5,3.8,4.4],[340,0,1.5,2.9,4.7,6.6,2.2,3.6,5.6],
[350,1.3,3.5,5.4,7.0,11.7,12.5,2.4,4.4,6.2],[360,1.8,3.9,5.8,6.9,4.6,2.6,3.2,5.1],[370,0,1.4,3.1,5.2,7.1,9.6,2.3,4.2,6.0],[380,1.2,2.7,4.4,6.3,10.1,13.2,2.0,3.6,5.4],[390,0,1.7,3.6,5.5,7.4,2.5,4.3,6.1],
[400,0,1.3,2.5,4.2,5.9,1.8,3.4,4.8],[410,0,1.6,3.3,1.2,4.8,2.3,2.8,4.1],[420,0,1.1,2.8,4.0,6.1,1.7,3.5,4.6],[430,1.5,3.0,4.6,2.2,7.2,3.7,5.3,1.9],[440,0,1.9,3.7,5.3,1.4,2.6,3.1,4.4],
[450,0,1.2,2.4,4.1,5.6,1.8,3.3,4.8],[460,0,1.6,3.2,4.8,6.8,2.3,3.9,5.6],[470,0,1.3,2.7,4.4,3.6,1.9,3.1,5.2],[480,0,1.8,3.5,5.1,7.3,2.4,4.2,6.1],[490,0,1.4,2.9,4.6,6.4,2.1,3.6,5.4],
[500,0,1.1,3.3,5.5,7.6,9.2,2.2,4.4,6.4],[510,0,1.7,3.8,5.9,8.1,10.4,2.7,4.8,6.9],[520,2.0,4.2,6.3,8.7,10.9,12.8,14.5,3.1,5.3,7.5],[530,1.5,3.6,5.7,7.9,9.8,11.6,13.6,2.6,4.6,6.8],[540,0,1.9,3.9,6.0,8.4,2.8,4.9,7.1],
[550,0,1.3,3.0,4.7,6.6,9.5,2.2,3.8,5.6],[560,0,1.6,2.6,4.3,5.8,2.0,3.5,4.9],[570,0,1.2,3.4,5.0,2.3,1.7,2.9,4.3],[580,0,1.8,2.9,4.5,6.2,2.4,3.7,5.3],[590,0,1.4,3.1,4.9,7.0,2.0,3.9,5.7],
[600,0,1.1,2.7,4.2,8.8,10.9,1.8,3.4,5.3],[610,0,1.7,3.5,5.4,6.7,2.4,4.3,6.0],[620,0,1.3,2.4,4.0,5.9,1.9,3.2,4.7],[630,0,1.9,3.3,4.8,6.5,2.6,4.1,5.7],[640,1.5,3.8,5.6,7.3,4.6,2.7,4.4,6.4],
[650,2.1,4.4,6.2,7.8,5.3,9.4,3.2,5.0,6.8],[660,1.8,3.9,5.7,7.5,10.8,12.0,13.0,2.9,4.8,6.6],[670,0,1.4,3.2,5.1,6.9,8.6,2.3,4.2,5.9],[680,0,1.2,2.8,4.5,6.1,2.0,3.6,5.2],[690,0,1.7,3.4,2.2,5.4,1.3,2.7,4.5],
[700,0,1.3,2.6,4.1,5.8,1.9,3.5,4.8],[710,0,1.9,3.7,5.3,7.2,2.6,4.4,6.1],[720,0,1.5,2.9,4.6,6.5,2.2,3.7,5.5],[730,1.2,3.1,4.8,6.2,8.3,2.1,4.0,5.5],[740,1.6,3.6,5.5,7.0,9.4,2.6,4.5,6.3],
[750,0,1.3,2.5,4.3,6.0,1.9,3.4,5.1],[760,1.8,3.3,5.1,7.1,11.4,2.5,4.2,6.0],[770,0,1.4,2.8,4.4,5.7,2.1,3.6,5.0],[780,0,1.1,3.0,4.9,6.6,1.7,2.4,4.0],[790,0,1.7,3.5,2.4,5.3,1.3,2.9,4.5],
[800,0,1.3,2.6,4.0,6.2,8.7,1.9,3.4,5.1],[810,0,1.9,3.2,5.0,6.8,2.5,4.1,5.8],[820,0,1.4,2.9,4.5,7.7,2.1,3.6,5.4],[830,0,1.2,3.6,5.4,9.1,1.8,2.6,4.4],[840,0,1.6,2.7,4.2,6.3,2.3,3.5,5.2],
[850,0,1.3,3.4,5.1,7.0,2.0,4.2,6.0],[860,0,1.8,2.5,4.7,6.1,1.4,3.3,5.4],[870,0,1.4,3.1,4.9,7.5,2.3,4.0,5.7],[880,0,1.1,2.8,4.3,5.8,1.7,3.5,5.0],[890,0,1.7,3.3,5.2,6.9,2.5,4.1,6.1],
[900,0,1.3,2.6,4.6,6.4,2.0,3.6,5.5],[910,0,1.9,3.8,5.7,7.3,2.7,4.6,6.4],[920,0,1.5,3.0,4.8,6.6,8.5,2.3,4.0,5.6],[930,1.2,3.5,5.4,7.2,9.3,2.4,4.4,6.3],[940,0,1.7,3.9,5.9,7.8,10.2,2.8,4.8,6.8],
[950,1.4,3.2,5.1,6.8,8.7,11.3,2.3,4.2,6.0],[960,1.9,4.0,6.1,8.2,10.6,12.9,13.7,14.2,3.0,5.1,7.2],[970,1.6,3.7,5.6,7.4,9.5,11.8,2.6,4.6,6.5],[980,0,1.3,3.1,5.0,6.7,12.3,2.2,4.0,5.8],[990,0,1.8,2.8,4.6,6.2,9.0,2.3,3.7,5.4],
[1000,0,1.4,3.4,5.3,7.6,2.1,4.3,6.2],[1010,0,1.2,2.5,4.1,5.9,1.8,3.3,4.9],[1020,0,1.7,3.2,4.9,7.1,2.4,4.0,5.8],[1030,0,1.3,2.7,4.4,6.0,2.0,3.6,5.1],[1040,0,1.9,3.6,5.4,2.2,1.4,2.9,4.5],
[1050,0,1.5,3.0,4.7,6.8,2.3,3.8,5.7],[1060,0,1.2,2.6,4.2,5.6,1.8,3.4,4.9],[1070,0,1.6,3.4,5.1,7.4,2.5,4.3,6.1],[1080,0,1.4,2.8,4.5,6.3,8.6,2.1,3.6,5.4],[1090,0,1.8,3.7,5.5,7.2,2.6,4.6,6.3],
[1100,1.3,3.1,5.0,6.9,8.8,2.2,4.0,5.9],[1110,0,1.5,3.4,5.3,7.0,9.5,2.4,4.3,6.1],[1120,0,1.2,2.7,4.6,6.5,2.0,3.6,5.5],[1130,0,1.8,3.6,5.7,7.8,10.3,2.7,4.6,6.7],[1140,1.4,3.3,5.2,7.2,9.1,12.6,2.4,4.3,6.2],
[1150,1.6,3.9,5.9,7.6,11.9,13.3,2.8,4.8,6.8],[1160,0,1.3,3.0,4.8,6.7,8.4,2.2,3.9,5.8],[1170,0,1.7,3.5,5.4,7.3,2.6,4.4,6.3],[1180,0,1.2,2.8,4.6,6.4,2.0,3.7,5.5],[1190,1.5,3.3,5.1,6.9,8.7,2.4,4.2,6.0],
[1200,1.9,3.8,5.7,7.4,9.6,11.0,2.8,4.7,6.6],[1210,1.4,3.4,5.5,7.1,9.9,12.3,2.4,4.5,6.3],[1220,1.7,3.6,5.3,6.8,8.4,2.6,4.4,6.0],[1230,0,1.3,3.1,5.0,6.6,7.9,2.2,4.0,5.8],[1240,0,1.6,2.9,4.7,6.3,2.3,3.8,5.5],
[1250,0,1.2,3.4,5.2,7.2,2.0,4.3,6.2],[1260,0,1.8,2.7,4.4,5.9,2.2,3.6,5.1],[1270,0,1.4,3.2,4.9,6.8,2.3,4.0,5.8],[1280,0,1.1,2.6,4.1,5.7,1.8,3.4,4.8],[1290,0,1.6,3.5,5.3,2.3,1.3,2.8,4.4],
[1300,0,1.3,2.8,4.5,6.2,2.0,3.6,5.4],[1310,0,1.9,3.3,5.0,7.0,9.1,2.6,4.2,6.0],[1320,1.5,3.7,5.6,7.3,10.8,12.3,2.5,4.6,6.5],[1330,0,1.2,3.0,4.8,6.6,2.1,3.9,5.7],[1340,0,1.7,3.5,5.5,7.4,2.6,4.5,6.4],
[1350,1.4,3.2,5.1,7.0,8.9,2.3,4.2,6.0],[1360,1.8,3.9,5.9,7.8,9.7,2.8,4.9,6.9],[1370,1.3,3.4,5.6,7.5,9.3,2.4,4.5,6.5],[1380,1.6,3.8,6.0,8.1,10.2,11.7,2.7,4.9,7.0],[1390,2.0,4.4,6.5,8.6,10.6,12.4,13.4,14.5,15.7,16.6,17.8,3.2,5.4,7.6],
[1400,1.5,3.6,5.7,7.7,9.5,2.5,4.6,6.7],[1410,0,1.3,3.1,5.0,6.9,8.6,2.2,4.0,5.9],[1420,0,1.7,3.4,5.3,7.6,10.1,2.5,4.3,6.4],[1430,1.2,3.3,5.4,7.4,11.2,12.7,2.2,4.3,6.3],[1440,0,1.6,2.9,4.7,6.5,2.2,3.8,5.6],
[1450,0,1.3,2.5,4.0,5.6,1.9,3.2,4.8],[1460,0,1.8,3.2,1.4,4.8,2.4,2.7,4.0],[1470,0,1.2,2.7,4.3,6.1,1.9,3.5,5.2],[1480,0,1.5,3.0,2.1,4.6,1.2,2.5,3.7],[1490,0,1.9,3.5,5.2,7.8,2.6,4.3,6.2],
[1500,0,1.4,2.8,4.4,6.0,2.1,3.6,5.2],[1510,0,1.1,2.4,3.9,5.5,1.7,3.2,4.6],[1520,0,1.6,3.1,4.7,2.2,1.3,2.6,3.9],[1530,0,1.3,2.6,4.2,5.8,1.9,3.4,5.0],[1540,0,1.8,3.4,5.0,8.2,2.5,4.2,6.0],
[1550,1.5,3.6,5.7,7.6,9.3,11.0,2.5,4.6,6.7],[1560,1.3,3.2,5.3,7.1,8.8,2.3,4.2,6.2],[1570,0,1.7,3.5,5.4,7.5,11.2,12.5,13.4,2.6,4.5,6.4],[1580,0,1.2,2.9,4.6,6.4,2.0,3.8,5.5],[1590,0,1.6,3.3,5.1,6.9,8.7,2.4,4.2,6.0],
[1600,1.4,3.1,5.0,6.8,8.5,2.2,4.0,5.9],[1610,1.8,3.8,5.8,7.7,9.8,2.8,4.8,6.7],[1620,1.5,3.5,5.6,7.6,9.4,10.6,2.5,4.5,6.6],[1630,2.0,4.1,6.2,8.3,10.2,3.0,5.1,7.2],[1640,1.6,3.7,5.9,7.9,9.9,11.3,2.6,4.8,6.9],
[1650,1.3,3.4,5.5,7.5,9.6,12.0,2.4,4.4,6.5],[1660,1.7,3.9,6.0,8.0,10.0,2.8,4.9,7.0],[1670,0,1.4,3.2,5.2,7.1,8.9,2.3,4.2,6.1],[1680,0,1.9,3.6,5.6,7.4,2.7,4.6,6.5],[1690,1.5,3.3,5.4,7.3,9.2,2.4,4.3,6.3],
[1700,1.2,3.0,5.1,7.0,8.6,11.1,2.1,4.0,6.0],[1710,0,1.6,3.5,5.5,7.7,2.5,4.5,6.6],[1720,0,1.3,2.8,4.6,6.4,2.1,3.7,5.5],[1730,0,1.8,3.4,5.2,7.2,2.6,4.3,6.2],[1740,0,1.4,3.1,4.9,6.7,9.1,2.2,4.0,5.8],
[1750,0,1.2,2.7,4.5,6.2,2.0,3.6,5.3],[1760,0,1.7,3.6,5.6,7.6,10.6,2.6,4.6,6.6],[1770,0,1.5,3.3,5.0,6.9,2.4,4.2,5.9],[1780,0,1.3,2.9,4.8,6.6,8.5,2.1,3.8,5.7],[1790,0,1.8,3.7,5.5,7.3,2.7,4.6,6.4],
[1800,0,1.4,3.2,5.1,7.0,9.0,2.3,4.2,6.0],[1810,1.6,3.5,5.4,7.5,9.4,2.5,4.5,6.4],[1820,1.9,4.0,6.1,8.2,10.6,12.0,12.5,13.4,14.6,15.6,3.0,5.1,7.2],[1830,0,1.5,3.3,5.3,7.2,9.1,2.4,4.3,6.3],[1840,0,1.2,3.0,4.8,6.8,2.1,3.9,5.8],
[1850,0,1.7,3.6,5.6,7.7,10.0,2.6,4.6,6.6],[1860,1.4,3.4,5.5,7.4,9.3,11.0,2.4,4.5,6.4],[1870,1.8,4.0,6.0,8.1,10.1,2.9,5.0,7.0],[1880,1.5,3.7,5.8,7.9,9.8,11.5,2.6,4.8,6.8],[1890,2.1,4.3,6.4,8.4,10.3,12.0,3.2,5.3,7.4],
[1900,1.7,3.9,6.1,8.2,10.4,13.1,14.1,2.8,5.0,7.1],[1910,2.0,4.4,6.5,8.6,10.7,12.4,3.1,5.4,7.6],[1920,1.6,3.8,6.0,8.0,10.0,13.5,2.7,4.9,7.0],[1930,1.9,4.2,6.3,8.5,10.5,12.8,3.0,5.2,7.4],[1940,1.4,3.5,5.6,7.6,9.5,2.4,4.6,6.6],
[1950,1.3,3.2,5.2,7.1,9.0,2.2,4.2,6.2],[1960,0,1.7,3.6,5.5,7.4,2.6,4.5,6.4],[1970,0,1.4,3.0,4.9,6.8,2.2,3.9,5.8],[1980,0,1.2,2.8,4.6,8.3,2.0,3.7,5.5],[1990,1.6,3.4,5.2,7.0,2.5,4.3]
];

// Blue marks (kb) and green threshold values
const chromosomeSites = [53,58,63,68,73,78,82,275,309,327,347,433,491,566,855,949,1050,1138,1145,1161,1203,1237,1253,1260,1435,1624,2004,2082,2140,2287,2292,2296,2332,2379,2417,2504,2563,2568,2572,2695,2720,2777,2782,2787,2792,2797,2802,2806,3170,3203,3235,3386];
const megaplasmidSites = [109,123,154,179,196,221,266,351,354,358,361,385,436,522,526,530,535,647,659,706,732,736,740,761,931,959,1100,1154,1318,1362,1387,1390,1393,1396,1434,1555,1614,1648,1652,1656,1661,1673,1711,1757,1821,1866,1895,1910,1914,1930,1941,1957];
const yMax = [45, 25];
const thresholds = [13.6, 10.5];
const statLabels = ["ρ=0.21, p=0.0", "ρ=0.25, p=4.1e-286"];
const panelTitles = ["Chromosome (NZ_CP012687.1)", "Megaplasmid (NZ_CP012688.1)"];

function expand(rows){
  const x=[], y=[];
  rows.forEach(r=>{ for(let i=1;i<r.length;i++){ x.push(r[0]*1000); y.push(r[i]); } });
  return {x, y};
}
function siteLines(sites, top){
  const x=[], y=[];
  sites.forEach(s=>{ x.push(s*1000, s*1000, null); y.push(0, top, null); });
  return {x, y};
}
const chr = expand(chromosomeRows);
const mega = expand(megaplasmidRows);
const chrLines = siteLines(chromosomeSites, yMax[0]);
const megaLines = siteLines(megaplasmidSites, yMax[1]);

const RED = '#c0504d';
const BLUE = 'rgba(132,172,222,0.9)';
const traces = [
  {type:'scatter', mode:'lines', x:chrLines.x, y:chrLines.y, xaxis:'x', yaxis:'y',
   line:{color:BLUE, width:2}, hoverinfo:'skip', connectgaps:false},
  {type:'scatter', mode:'lines', x:megaLines.x, y:megaLines.y, xaxis:'x2', yaxis:'y2',
   line:{color:BLUE, width:2}, hoverinfo:'skip', connectgaps:false},
  {type:'scatter', mode:'markers', x:chr.x, y:chr.y, xaxis:'x', yaxis:'y',
   marker:{color:RED, size:3.4}, hoverinfo:'skip', cliponaxis:true},
  {type:'scatter', mode:'markers', x:mega.x, y:mega.y, xaxis:'x2', yaxis:'y2',
   marker:{color:RED, size:3.4}, hoverinfo:'skip', cliponaxis:true}
];

const shapes = [
  {type:'line', xref:'paper', yref:'y', x0:0, x1:1.027, y0:thresholds[0], y1:thresholds[0], layer:'above', line:{color:'#1fae3e', width:1.6}},
  {type:'line', xref:'paper', yref:'y2', x0:0, x1:1.027, y0:thresholds[1], y1:thresholds[1], layer:'above', line:{color:'#1fae3e', width:1.6}}
];

const FONT = 'Lato, "Open Sans", sans-serif';
const axisCommon = {
  showline:true, mirror:true, linecolor:'#a6a6a6', linewidth:1,
  showgrid:true, gridcolor:'#b5b5b5', gridwidth:1, zeroline:false,
  ticks:'', tickfont:{family:FONT, size:15, color:'#111'}
};

const layout = {
  width:743, height:609,
  margin:{l:64, r:50, t:21, b:65},
  paper_bgcolor:'#fff', plot_bgcolor:'#fff',
  showlegend:false,
  font:{family:FONT, color:'#111'},
  xaxis: Object.assign({}, axisCommon, {domain:[0,1], anchor:'y', range:[0,3403000], dtick:500000, tickformat:'d', showgrid:false}),
  yaxis: Object.assign({}, axisCommon, {domain:[0.548,1], anchor:'x', range:[0,yMax[0]], dtick:5}),
  xaxis2: Object.assign({}, axisCommon, {domain:[0,1], anchor:'y2', range:[0,2019000], dtick:500000, tickformat:'d', showgrid:false}),
  yaxis2: Object.assign({}, axisCommon, {domain:[0,0.4537], anchor:'x2', range:[0,yMax[1]], dtick:5}),
  shapes: shapes,
  annotations: [
    {xref:'paper', yref:'paper', x:0, y:1, yshift:1, xanchor:'left', yanchor:'bottom', text:statLabels[0], showarrow:false, font:{family:FONT, size:15, color:'#111'}},
    {xref:'paper', yref:'paper', x:1, y:1, yshift:1, xanchor:'right', yanchor:'bottom', text:'<b>'+panelTitles[0]+'</b>', showarrow:false, font:{family:FONT, size:16, color:'#111'}},
    {xref:'paper', yref:'paper', x:0, y:0.4537, yshift:1, xanchor:'left', yanchor:'bottom', text:statLabels[1], showarrow:false, font:{family:FONT, size:15, color:'#111'}},
    {xref:'paper', yref:'paper', x:1, y:0.4537, yshift:1, xanchor:'right', yanchor:'bottom', text:'<b>'+panelTitles[1]+'</b>', showarrow:false, font:{family:FONT, size:16, color:'#111'}},
    {xref:'paper', yref:'y', x:1.024, y:thresholds[0], xanchor:'left', yanchor:'middle', text:String(thresholds[0]), showarrow:false, font:{family:FONT, size:14, color:'#111'}},
    {xref:'paper', yref:'y2', x:1.024, y:thresholds[1], xanchor:'left', yanchor:'middle', text:String(thresholds[1]), showarrow:false, font:{family:FONT, size:14, color:'#111'}},
    {xref:'paper', yref:'paper', x:-0.054, y:0.49, xanchor:'center', yanchor:'middle', textangle:-90, text:'Normalized modification density (1000 bp window)', showarrow:false, font:{family:FONT, size:22, color:'#111'}},
    {xref:'paper', yref:'paper', x:0.5, y:-0.088, xanchor:'center', yanchor:'middle', text:'Position (bp)', showarrow:false, font:{family:FONT, size:22, color:'#111'}}
  ]
};

Plotly.newPlot('chart', traces, layout, {staticPlot:true, displayModeBar:false});
</script>
</body>
</html>
